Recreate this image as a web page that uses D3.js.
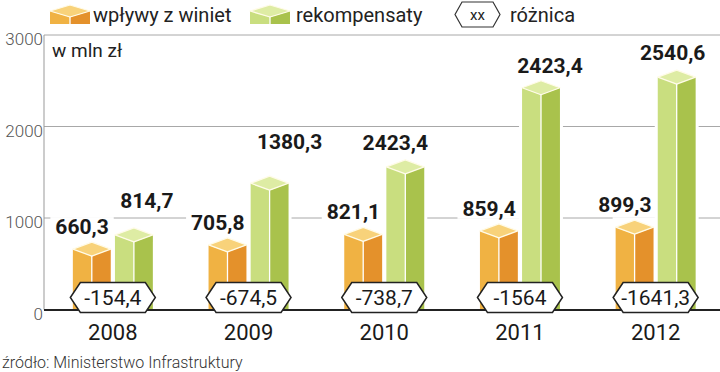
<!DOCTYPE html>
<html><head><meta charset="utf-8">
<script src="https://cdn.jsdelivr.net/npm/d3@7"></script>
<style>
html,body{margin:0;padding:0;background:#fff;}
svg{display:block;font-family:Roboto,"Noto Sans",sans-serif;}
</style></head>
<body>
<svg id="chart" width="720" height="372"></svg>
<script>
const years = ['2008','2009','2010','2011','2012'];
const winiety = [660.3, 705.8, 821.1, 859.4, 899.3];
const rekompensaty = [814.7, 1380.3, 1559.8, 2423.4, 2540.6];
const winietyLabels = ['660,3','705,8','821,1','859,4','899,3'];
const rekompensatyLabels = ['814,7','1380,3','2423,4','2423,4','2540,6'];
const roznicaLabels = ['-154,4','-674,5','-738,7','-1564','-1641,3'];
const yTicks = [0, 1000, 2000, 3000];
const legendItems = ['wpływy z winiet', 'rekompensaty', 'różnica'];

// label placement nudges (layout only)
const greenLabelDx = [13, 20, -10, 9, -4];
const greenLabelDy = [-27, -34, -17, -15, -17];

const svg = d3.select('#chart');
const W = 720, H = 372;
const axisX = 44;
const y = d3.scaleLinear().domain([0, 3000]).range([309.5, 35]);
const x = d3.scaleBand().domain(years).range([45, 723.5]).padding(0);
const inner = d3.scaleBand().domain(['w','r']).range([-40, 40]).paddingInner(0.1);

const colors = {
  w: {left:'#F0B243', right:'#E4912B', top:'#F8D27A'},
  r: {left:'#C9DE7F', right:'#A9C24C', top:'#DEECA4'}
};
const rh = 7;

const grid = svg.append('g');
grid.selectAll('line').data(yTicks.filter(d => d > 0)).join('line')
  .attr('x1', axisX).attr('x2', W)
  .attr('y1', d => y(d)).attr('y2', d => y(d))
  .attr('stroke', '#a8a8a8').attr('stroke-width', 1);

svg.append('g').selectAll('text').data(yTicks).join('text')
  .attr('x', axisX - 1).attr('y', d => y(d) + 10)
  .attr('text-anchor', 'end')
  .attr('font-size', 17).attr('font-weight', 300).attr('fill', '#555')
  .text(d => d);

svg.append('line').attr('x1', axisX).attr('x2', axisX)
  .attr('y1', y(3000)).attr('y2', y(0))
  .attr('stroke', '#999').attr('stroke-width', 1);

svg.append('text').attr('x', 52).attr('y', 57)
  .attr('font-size', 19).attr('fill', '#222').text('w mln zł');

const series = [
  {key:'w', values: winiety, labels: winietyLabels},
  {key:'r', values: rekompensaty, labels: rekompensatyLabels}
];

const bgLayer = svg.append('g');
const barLayer = svg.append('g');
const labelLayer = svg.append('g');

function drawBox(g, x0, x1, yv, y0, c, h) {
  const xc = (x0 + x1) / 2;
  g.append('path').attr('d', `M${x0},${yv}L${xc},${yv+h}L${xc},${y0}L${x0},${y0}Z`).attr('fill', c.left);
  g.append('path').attr('d', `M${xc},${yv+h}L${x1},${yv}L${x1},${y0}L${xc},${y0}Z`).attr('fill', c.right);
  g.append('path').attr('d', `M${x0},${yv}L${xc},${yv-h}L${x1},${yv}L${xc},${yv+h}Z`)
    .attr('fill', c.top).attr('stroke', '#fffbe8').attr('stroke-width', 1.3).attr('stroke-linejoin','round');
  g.append('line').attr('x1', xc).attr('x2', xc).attr('y1', yv + h).attr('y2', y0)
    .attr('stroke', '#fff').attr('stroke-width', 1.3);
}

series.forEach(s => {
  s.values.forEach((v, i) => {
    const c = x(years[i]) + x.bandwidth() / 2;
    const x0 = c + inner(s.key), x1 = x0 + inner.bandwidth();
    const yv = y(v);
    bgLayer.append('rect').attr('x', x0 - 3).attr('width', x1 - x0 + 6)
      .attr('y', yv - rh - 3).attr('height', y(0) - yv + rh + 3).attr('fill', '#fff');
    drawBox(barLayer, x0, x1, yv, y(0), colors[s.key], rh);
    const t = labelLayer.append('text')
      .attr('font-size', 21).attr('font-weight', 700).attr('fill', '#1a1a1a')
      .text(s.labels[i]);
    if (s.key === 'w') {
      t.attr('x', x1 - 2).attr('y', yv - 15).attr('text-anchor', 'end');
    } else {
      t.attr('x', (x0 + x1) / 2 + greenLabelDx[i]).attr('y', yv + greenLabelDy[i]).attr('text-anchor', 'middle');
    }
    const bb = t.node().getBBox();
    bgLayer.append('rect').attr('x', bb.x - 5).attr('y', bb.y + 2)
      .attr('width', bb.width + 10).attr('height', bb.height - 4).attr('fill', '#fff');
  });
});

svg.append('line').attr('x1', axisX).attr('x2', W)
  .attr('y1', y(0) + 0.5).attr('y2', y(0) + 0.5)
  .attr('stroke', '#222').attr('stroke-width', 2);

function hexPath(cx, cy, w, h, s) {
  const l = cx - w/2, r = cx + w/2, t = cy - h/2, b = cy + h/2;
  return `M${l},${cy}L${l+s},${t}L${r-s},${t}L${r},${cy}L${r-s},${b}L${l+s},${b}Z`;
}

const hexG = svg.append('g');
roznicaLabels.forEach((d, i) => {
  const c = x(years[i]) + x.bandwidth() / 2;
  const cy = 297.5;
  hexG.append('path').attr('d', hexPath(c, cy, 85, 30, 10))
    .attr('fill', '#fff').attr('stroke', '#222').attr('stroke-width', 1.5);
  hexG.append('text').attr('x', c).attr('y', cy + 7.5).attr('text-anchor', 'middle')
    .attr('font-size', 21).attr('fill', '#1a1a1a').text(d);
});

svg.append('g').selectAll('text').data(years).join('text')
  .attr('x', d => x(d) + x.bandwidth() / 2).attr('y', 340)
  .attr('text-anchor', 'middle').attr('font-size', 22).attr('fill', '#1a1a1a')
  .text(d => d);

svg.append('text').attr('x', 2).attr('y', 368)
  .attr('font-size', 16).attr('font-weight', 300).attr('fill', '#333')
  .text('źródło: Ministerstwo Infrastruktury');

const lg = svg.append('g');
drawBox(lg, 50, 90, 11, 24, colors.w, 6);
lg.append('text').attr('x', 93).attr('y', 22).attr('font-size', 20).attr('fill', '#222').text(legendItems[0]);
drawBox(lg, 250, 290, 11, 24, colors.r, 6);
lg.append('text').attr('x', 296).attr('y', 22).attr('font-size', 20).attr('fill', '#222').text(legendItems[1]);
lg.append('path').attr('d', hexPath(477.5, 14.5, 45, 25, 7))
  .attr('fill', '#fff').attr('stroke', '#333').attr('stroke-width', 1.2);
lg.append('text').attr('x', 477.5).attr('y', 19.5).attr('text-anchor', 'middle')
  .attr('font-size', 15).attr('fill', '#222').text('xx');
lg.append('text').attr('x', 510).attr('y', 22).attr('font-size', 20).attr('fill', '#222').text(legendItems[2]);
</script>
</body></html>
